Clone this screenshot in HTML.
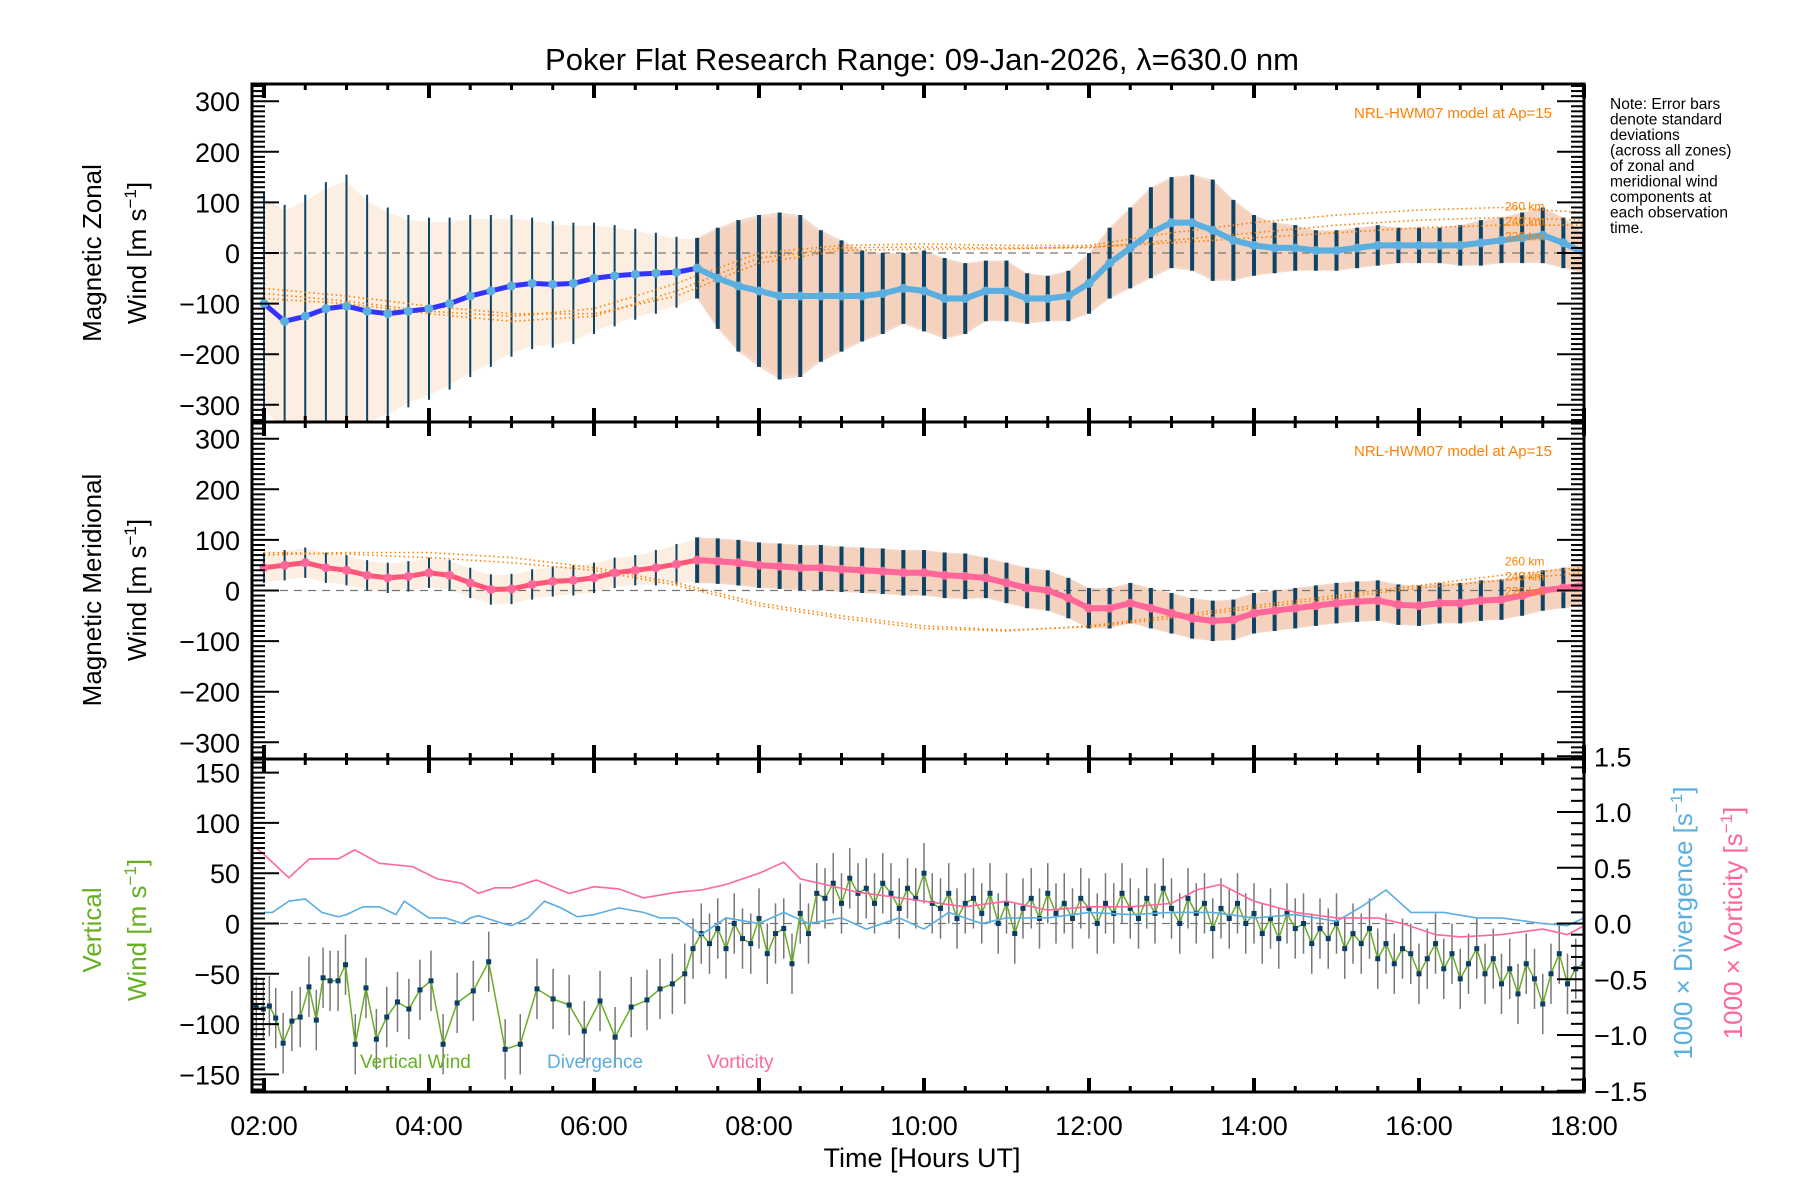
<!DOCTYPE html>
<html><head><meta charset="utf-8"><title>Poker Flat winds</title>
<style>
body{margin:0;background:#fff}
svg{display:block;font-family:"Liberation Sans","DejaVu Sans",sans-serif}
</style></head>
<body>
<svg id="chart" xmlns="http://www.w3.org/2000/svg" width="1800" height="1200" viewBox="0 0 1800 1200">
<rect width="1800" height="1200" fill="#fff"/>
<text x="922" y="70" font-size="31" text-anchor="middle">Poker Flat Research Range: 09-Jan-2026, λ=630.0 nm</text>
<g font-size="15.5">
<text x="1610" y="109">Note: Error bars</text>
<text x="1610" y="124.5">denote standard</text>
<text x="1610" y="140">deviations</text>
<text x="1610" y="155.5">(across all zones)</text>
<text x="1610" y="171">of zonal and</text>
<text x="1610" y="186.5">meridional wind</text>
<text x="1610" y="202">components at</text>
<text x="1610" y="217.5">each observation</text>
<text x="1610" y="233">time.</text>
</g>
<g id="layer"></g>
</svg>
<script>
// ---------- data ----------
const zonalTimes = [2.0,2.25,2.5,2.75,3.0,3.25,3.5,3.75,4.0,4.25,4.5,4.75,5.0,5.25,5.5,5.75,6.0,6.25,6.5,6.75,7.0,7.25,7.5,7.75,8.0,8.25,8.5,8.75,9.0,9.25,9.5,9.75,10.0,10.25,10.5,10.75,11.0,11.25,11.5,11.75,12.0,12.25,12.5,12.75,13.0,13.25,13.5,13.75,14.0,14.25,14.5,14.75,15.0,15.25,15.5,15.75,16.0,16.25,16.5,16.75,17.0,17.25,17.5,17.75,18.0];
const zonalMean = [-100,-135,-125,-110,-105,-115,-120,-115,-110,-100,-85,-75,-65,-60,-62,-60,-50,-45,-42,-40,-38,-30,-50,-65,-75,-85,-85,-85,-85,-85,-80,-70,-75,-90,-90,-75,-75,-90,-90,-85,-60,-20,10,40,60,60,45,25,15,10,10,5,5,10,15,15,15,15,15,20,25,30,35,20,0];
const zonalErr = [220,230,240,250,260,230,210,190,180,170,160,150,140,130,125,120,110,100,90,80,70,60,100,130,150,165,160,130,110,90,80,70,80,80,70,60,60,50,45,50,60,70,80,90,90,95,100,80,60,50,45,40,40,40,40,35,35,35,40,45,45,50,55,50,40];
const merMean = [45,50,55,45,40,30,25,28,35,30,15,2,3,12,18,20,25,35,40,45,52,60,58,55,50,48,45,45,42,40,38,35,35,30,28,25,15,5,0,-15,-35,-35,-25,-35,-45,-55,-60,-58,-45,-40,-35,-30,-25,-22,-20,-28,-30,-25,-25,-20,-18,-10,0,5,10];
const merErr = [30,30,30,30,30,30,30,30,30,30,30,30,30,30,30,30,30,30,30,35,40,45,45,45,45,45,45,45,45,45,45,45,45,45,45,40,40,40,40,40,40,40,40,40,40,40,40,40,40,40,40,40,40,40,40,40,40,40,40,40,40,40,40,40,40];
const modelTimes = [2,3,4,5,6,7,8,9,10,11,12,13,14,15,16,17,18];
const zonalModel260 = [-80,-95,-115,-125,-110,-60,0,15,18,15,15,40,60,75,85,90,80];
const zonalModel240 = [-90,-100,-120,-135,-125,-75,-10,10,12,10,10,25,40,55,65,70,65];
const zonalModel220 = [-70,-85,-105,-120,-120,-85,-20,5,8,8,12,20,30,40,50,55,55];
const merModel260 = [75,72,65,55,40,10,-30,-55,-75,-80,-70,-50,-30,-10,10,30,45];
const merModel240 = [70,75,75,65,45,15,-25,-50,-70,-78,-72,-55,-35,-15,5,20,35];
const vertTimes = [1.906,1.992,2.065,2.142,2.232,2.338,2.439,2.545,2.634,2.716,2.801,2.898,2.988,3.106,3.236,3.362,3.488,3.618,3.756,3.890,4.024,4.171,4.341,4.537,4.724,4.923,5.106,5.309,5.504,5.699,5.882,6.073,6.256,6.451,6.642,6.8,6.95,7.1,7.2,7.3,7.4,7.5,7.6,7.7,7.8,7.9,8.0,8.1,8.2,8.3,8.4,8.5,8.6,8.7,8.8,8.9,9.0,9.1,9.2,9.3,9.4,9.5,9.6,9.7,9.8,9.9,10.0,10.1,10.2,10.3,10.4,10.5,10.6,10.7,10.8,10.9,11.0,11.1,11.2,11.3,11.4,11.5,11.6,11.7,11.8,11.9,12.0,12.1,12.2,12.3,12.4,12.5,12.6,12.7,12.8,12.9,13.0,13.1,13.2,13.3,13.4,13.5,13.6,13.7,13.8,13.9,14.0,14.1,14.2,14.3,14.4,14.5,14.6,14.7,14.8,14.9,15.0,15.1,15.2,15.3,15.4,15.5,15.6,15.7,15.8,15.9,16.0,16.1,16.2,16.3,16.4,16.5,16.6,16.7,16.8,16.9,17.0,17.1,17.2,17.3,17.4,17.5,17.6,17.7,17.8,17.9,18.0];
const vertWind = [-83,-85,-82,-94,-119,-97,-93,-63,-96,-54,-57,-57,-41,-120,-64,-115,-93,-78,-85,-66,-57,-120,-79,-67,-38,-125,-120,-65,-75,-81,-107,-77,-113,-83,-76,-65,-60,-50,-25,-10,-20,-5,-25,0,-15,-20,5,-30,-10,-5,-40,10,-10,30,25,40,20,45,30,35,20,40,30,15,35,25,50,20,15,30,5,20,25,10,30,0,20,-10,15,25,5,30,10,20,5,25,15,0,20,10,30,15,5,25,10,35,15,0,25,10,20,-5,15,5,20,0,10,-10,5,-15,10,-5,0,-20,-5,-15,0,-25,-10,-20,-5,-35,-20,-40,-25,-30,-50,-35,-20,-45,-30,-55,-40,-25,-50,-35,-60,-45,-70,-40,-55,-80,-50,-30,-60,-45,-40];
const vertErr = 30;
const divTimes = [2.0,2.1,2.3,2.5,2.7,2.9,3.0,3.2,3.4,3.6,3.7,4.0,4.2,4.4,4.5,4.6,4.9,5.0,5.2,5.4,5.6,5.8,6.0,6.3,6.6,6.8,7.0,7.3,7.6,8.0,8.3,8.6,9.0,9.3,9.7,10.0,10.3,10.7,11.0,11.5,12.0,12.5,13.0,13.5,14.0,14.5,15.0,15.3,15.6,15.9,16.3,16.7,17.0,17.5,17.8,18.0];
const divergence = [0.1,0.1,0.2,0.22,0.1,0.06,0.08,0.15,0.15,0.08,0.2,0.05,0.05,0.0,0.05,0.07,0.0,-0.02,0.05,0.2,0.14,0.06,0.08,0.14,0.1,0.05,0.05,-0.1,0.05,0.0,0.1,0.0,0.05,-0.05,0.05,-0.05,0.1,0.0,0.05,0.05,0.1,0.08,0.1,0.1,0.05,0.08,0.02,0.15,0.3,0.1,0.1,0.05,0.05,0.0,-0.02,0.05];
const vortTimes = [1.9,2.0,2.3,2.55,2.9,3.1,3.4,3.8,4.1,4.4,4.6,4.8,5.0,5.3,5.7,6.0,6.3,6.6,7.0,7.3,7.6,8.0,8.3,8.5,8.8,9.2,9.5,10.0,10.5,11.0,11.5,12.0,12.5,13.0,13.3,13.6,14.0,14.5,15.0,15.5,15.8,16.2,16.5,17.0,17.5,17.8,18.0];
const vorticity = [0.68,0.62,0.41,0.58,0.58,0.66,0.54,0.51,0.4,0.36,0.27,0.32,0.32,0.39,0.27,0.33,0.31,0.23,0.28,0.3,0.35,0.45,0.55,0.4,0.35,0.28,0.25,0.2,0.15,0.2,0.12,0.15,0.15,0.18,0.3,0.35,0.2,0.1,0.05,0.05,0.0,-0.1,-0.12,-0.1,-0.05,-0.1,-0.02];
const xTickLabels = ["02:00","04:00","06:00","08:00","10:00","12:00","14:00","16:00","18:00"];
const windTickLabels = ["300","200","100","0","−100","−200","−300"];
const vertTickLabels = ["150","100","50","0","−50","−100","−150"];
const rightTickLabels = ["1.5","1.0","0.5","0.0","−0.5","−1.0","−1.5"];

// ---------- axes ----------
const L=252, R=1584;
const xs = t => 264 + (t-2)*82.5;
const panels = [{top:84,bot:422,c:253,k:0.506},{top:422,bot:759,c:590.5,k:0.506},{top:759,bot:1092,c:923.5,k:1.006}];
const y1 = v => panels[0].c - v*panels[0].k;
const y2 = v => panels[1].c - v*panels[1].k;
const y3 = v => panels[2].c - v*panels[2].k;
const yr = v => 923.5 - v*111.5;
const NS='http://www.w3.org/2000/svg';
const layer=document.getElementById('layer');
function mk(tag,attrs,parent){const e=document.createElementNS(NS,tag);for(const k in attrs)e.setAttribute(k,attrs[k]);(parent||layer).appendChild(e);return e;}
function clipG(p,name){const g=mk('g',{'clip-path':'url(#clip'+p+')'});return g;}
const defs=mk('defs',{});
panels.forEach((p,i)=>{const cp=mk('clipPath',{id:'clip'+i},defs);mk('rect',{x:L,y:p.top,width:R-L,height:p.bot-p.top},cp);});
function pts(ts,vs,fy){return ts.map((t,i)=>xs(t).toFixed(1)+','+fy(vs[i]).toFixed(1)).join(' ');}

// ---------- wind panels ----------
function windPanel(pi,fy,mean,err,lineColEarly,lineColLate,models,label){
  const g=clipG(pi,'panel-'+label+'-data');
  const up=zonalTimes.map((t,i)=>xs(t).toFixed(1)+','+fy(mean[i]+err[i]*0.95).toFixed(1));
  const dn=zonalTimes.map((t,i)=>xs(t).toFixed(1)+','+fy(mean[i]-err[i]*0.95).toFixed(1)).reverse();
  let e=mk('polygon',{points:up.concat(dn).join(' '),fill:'#fbe3cf','fill-opacity':0.6},g);
  
  
  const idx=zonalTimes.map((t,i)=>i).filter(i=>zonalTimes[i]>=7.25);
  const up2=idx.map(i=>xs(zonalTimes[i]).toFixed(1)+','+fy(mean[i]+err[i]).toFixed(1));
  const dn2=idx.map(i=>xs(zonalTimes[i]).toFixed(1)+','+fy(mean[i]-err[i]).toFixed(1)).reverse();
  e=mk('polygon',{points:up2.concat(dn2).join(' '),fill:'#e8b090','fill-opacity':0.45},g);
  
  
  e=mk('line',{x1:L,x2:R,y1:fy(0),y2:fy(0),stroke:'#777','stroke-dasharray':'8 6','stroke-width':1.3},g);
  
  
  zonalTimes.forEach((t,i)=>{
    const b=mk('line',{x1:xs(t),x2:xs(t),y1:fy(mean[i]+err[i]),y2:fy(mean[i]-err[i]),stroke:'#0b4466','stroke-width':t>=7.25?4:2},g);
    
    
  });
  models.forEach((m,j)=>{
    const ml=mk('polyline',{points:pts(modelTimes,m,fy),fill:'none',stroke:'#ff8000','stroke-width':1.6,'stroke-dasharray':'1.5 3'},g);
    
    
  });
  const ei=zonalTimes.filter(t=>t<=7.25).length;
  e=mk('polyline',{points:pts(zonalTimes.slice(0,ei),mean.slice(0,ei),fy),fill:'none',stroke:lineColEarly,'stroke-width':5},g);
  
  
  e=mk('polyline',{points:pts(zonalTimes.slice(ei-1),mean.slice(ei-1),fy),fill:'none',stroke:lineColLate,'stroke-width':6},g);
  
  
  zonalTimes.forEach((t,i)=>{
    const d=mk('circle',{cx:xs(t),cy:fy(mean[i]),r:4.5,fill:lineColLate},g);
    
    
  });
  e=mk('text',{x:1552,y:panels[pi].top+34,'font-size':15,fill:'#ff8000','text-anchor':'end'});
  e.textContent='NRL-HWM07 model at Ap=15';
  
  
  const km=['260 km','240 km','220 km'];
  km.forEach((k,j)=>{const tt=mk('text',{x:1505,y:fy(models[0][16])-2+j*15,'font-size':12,fill:'#ff8000'});tt.textContent=k;
    
    });
}
windPanel(0,y1,zonalMean,zonalErr,'#3333ff','#5aaee0',[zonalModel260,zonalModel240,zonalModel220],'zonal');
windPanel(1,y2,merMean,merErr,'#ff5577','#ff6699',[merModel260,merModel240],'meridional');

// ---------- vertical panel ----------
(function(){
  const g=clipG(2,'vertical-panel-data');
  let e=mk('line',{x1:L,x2:R,y1:y3(0),y2:y3(0),stroke:'#777','stroke-dasharray':'8 6','stroke-width':1.3},g);
  
  
  vertTimes.forEach((t,i)=>{
    const b=mk('line',{x1:xs(t),x2:xs(t),y1:y3(vertWind[i]+vertErr),y2:y3(vertWind[i]-vertErr),stroke:'#777','stroke-width':1.5},g);
    
    
  });
  e=mk('polyline',{points:pts(vertTimes,vertWind,y3),fill:'none',stroke:'#66b022','stroke-width':1.5},g);
  
  
  vertTimes.forEach((t,i)=>{
    const d=mk('rect',{x:xs(t)-2.5,y:y3(vertWind[i])-2.5,width:5,height:5,fill:'#0b3d66'},g);
    
    
  });
  e=mk('polyline',{points:pts(divTimes,divergence,yr),fill:'none',stroke:'#5aaee0','stroke-width':1.6},g);
  
  
  e=mk('polyline',{points:pts(vortTimes,vorticity,yr),fill:'none',stroke:'#ff6699','stroke-width':1.6},g);
  
  
  e=mk('text',{x:360,y:1068,'font-size':19,fill:'#66b022'});e.textContent='Vertical Wind';
  
  
  e=mk('text',{x:547,y:1068,'font-size':19,fill:'#5aaee0'});e.textContent='Divergence';
  
  
  e=mk('text',{x:707,y:1068,'font-size':19,fill:'#ff6699'});e.textContent='Vorticity';
  
  
})();

// ---------- frames & ticks ----------
function tick(x1,y1_,x2,y2_,w,name){const t=mk('line',{x1:x1,y1:y1_,x2:x2,y2:y2_,stroke:'#000','stroke-width':w});}
panels.forEach((p,pi)=>{
  const f=mk('rect',{x:L,y:p.top,width:R-L,height:p.bot-p.top,fill:'none',stroke:'#000','stroke-width':3});
  
  
  const fy=[y1,y2,y3][pi];
  const step=pi<2?10:5, lim=pi<2?330:165, maj=pi<2?100:50;
  for(let v=-lim;v<=lim;v+=step){
    const yy=fy(v); if(yy<p.top||yy>p.bot)continue;
    const isM=Math.abs(v%maj)<0.01;
    const len=isM?27:13;
    tick(L,yy,L+len,yy,2,'y-tick');
    if(pi<2) tick(R,yy,R-len,yy,2,'y-tick-right');
  }
  if(pi==2){for(let v=-1.5;v<=1.51;v+=0.1){const yy=yr(v);const isM=Math.abs(Math.round(v*10)%5)==0;tick(R,yy,R-(isM?27:13),yy,2,'right-y-tick');}}
  for(let t=2;t<=18.01;t+=0.5){
    const xx=xs(t);const isM=Math.abs((t-2)%2)<0.01;const len=isM?14:6;
    tick(xx,p.top,xx,p.top+len,isM?4:3,'x-tick-top');
    tick(xx,p.bot,xx,p.bot-len,isM?4:3,'x-tick-bottom');
  }
  const labs=pi<2?windTickLabels:vertTickLabels;
  labs.forEach((s,i)=>{
    const v=pi<2?300-i*100:150-i*50;
    const tx=mk('text',{x:240,y:fy(v)+10,'font-size':27,'text-anchor':'end'});tx.textContent=s;
    
    
  });
});
rightTickLabels.forEach((s,i)=>{
  const v=1.5-i*0.5;
  const tx=mk('text',{x:1594,y:yr(v)+10,'font-size':27});tx.textContent=s;
  
  
});
xTickLabels.forEach((s,i)=>{
  const tx=mk('text',{x:xs(2+i*2),y:1135,'font-size':27,'text-anchor':'middle'});tx.textContent=s;
  
  
});
let tt=mk('text',{x:922,y:1167,'font-size':27,'text-anchor':'middle'});tt.textContent='Time [Hours UT]';


function rot(x,y,txt,col,name){const e=mk('text',{x:0,y:0,'font-size':26,fill:col,'text-anchor':'middle',transform:'translate('+x+','+y+') rotate(-90)'});e.innerHTML=txt;}
const unit='Wind [m s<tspan dy="-10" font-size="17">−1</tspan><tspan dy="10">]</tspan>';
rot(101,253,'Magnetic Zonal','#000','zonal-y-title-1');
rot(146,253,unit,'#000','zonal-y-title-2');
rot(101,590,'Magnetic Meridional','#000','meridional-y-title-1');
rot(146,590,unit,'#000','meridional-y-title-2');
rot(101,930,'Vertical','#66b022','vertical-y-title-1');
rot(146,930,unit,'#66b022','vertical-y-title-2');
rot(1692,923,'1000 × Divergence [s<tspan dy="-10" font-size="17">−1</tspan><tspan dy="10">]</tspan>','#5aaee0','divergence-y-title');
rot(1742,923,'1000 × Vorticity [s<tspan dy="-10" font-size="17">−1</tspan><tspan dy="10">]</tspan>','#ff6699','vorticity-y-title');
</script>
</body></html>
